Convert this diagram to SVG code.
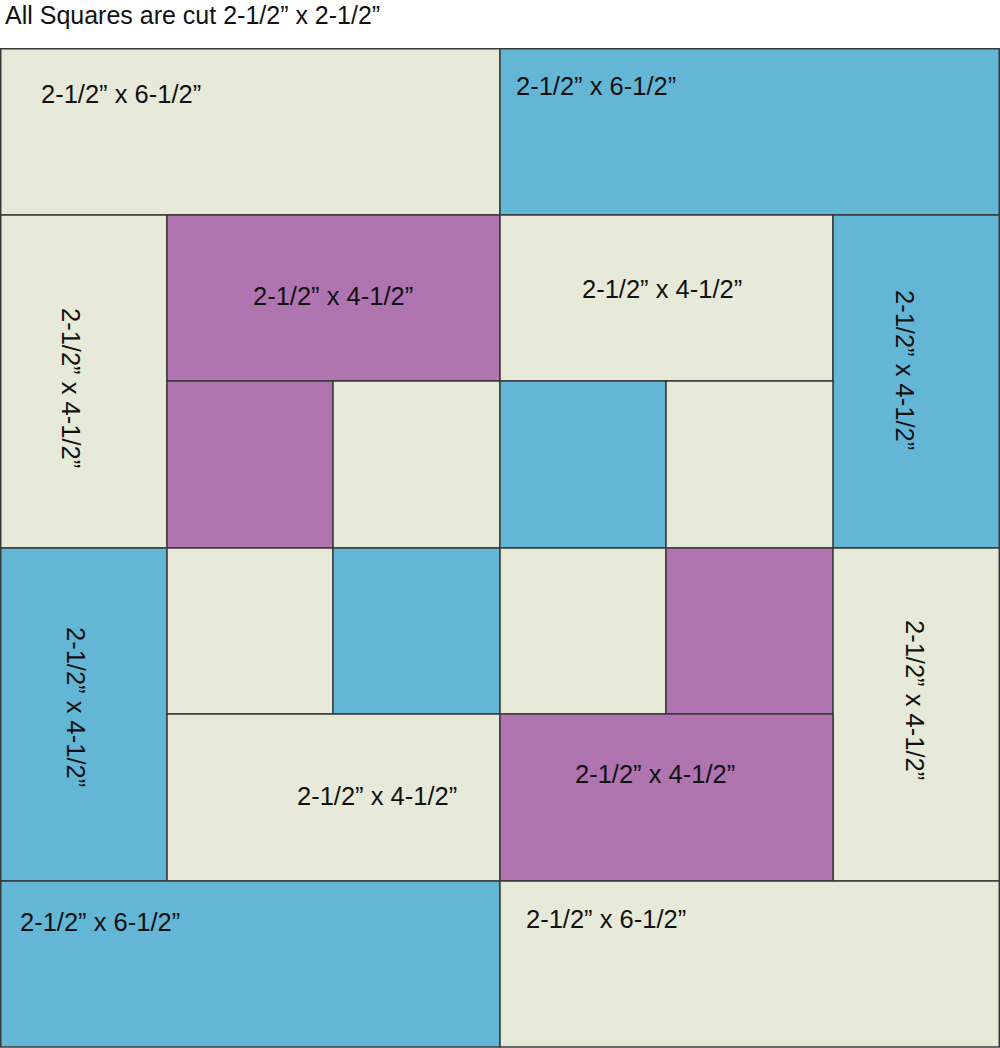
<svg xmlns="http://www.w3.org/2000/svg" width="1000" height="1048" viewBox="0 0 1000 1048">
<style>
.c,.b,.p{stroke:#3a3a3a;stroke-width:1.5}
.c{fill:#e7ead8}
.b{fill:#64b6d6}
.p{fill:#b074b0}
text{font-family:"Liberation Sans",Arial,sans-serif;font-size:25.5px;fill:#111}
.t{font-size:25px}
</style>
<rect width="1000" height="1048" fill="#fff"/>
<text class="t" x="5" y="24">All Squares are cut 2-1/2” x 2-1/2”</text>
<g id="r1a"><rect class="c" x="0.75" y="48.75" width="499.25" height="166.25"/><text x="41" y="103">2-1/2” x 6-1/2”</text></g>
<g id="r1b"><rect class="b" x="500" y="48.75" width="499.25" height="166.25"/><text x="516" y="95">2-1/2” x 6-1/2”</text></g>
<g id="v1"><rect class="c" x="0.75" y="215" width="166.25" height="333"/><text transform="translate(62,308) rotate(90)">2-1/2” x 4-1/2”</text></g>
<g id="h2a"><rect class="p" x="167" y="215" width="333" height="166"/><text x="253" y="305">2-1/2” x 4-1/2”</text></g>
<g id="h2b"><rect class="c" x="500" y="215" width="333" height="166"/><text x="582" y="298">2-1/2” x 4-1/2”</text></g>
<g id="v2"><rect class="b" x="833" y="215" width="166.25" height="333"/><text transform="translate(896,290) rotate(90)">2-1/2” x 4-1/2”</text></g>
<g id="s1"><rect class="p" x="167" y="381" width="166" height="167"/></g>
<g id="s2"><rect class="c" x="333" y="381" width="167" height="167"/></g>
<g id="s3"><rect class="b" x="500" y="381" width="166" height="167"/></g>
<g id="s4"><rect class="c" x="666" y="381" width="167" height="167"/></g>
<g id="v3"><rect class="b" x="0.75" y="548" width="166.25" height="333"/><text transform="translate(67,627) rotate(90)">2-1/2” x 4-1/2”</text></g>
<g id="s5"><rect class="c" x="167" y="548" width="166" height="166"/></g>
<g id="s6"><rect class="b" x="333" y="548" width="167" height="166"/></g>
<g id="s7"><rect class="c" x="500" y="548" width="166" height="166"/></g>
<g id="s8"><rect class="p" x="666" y="548" width="167" height="166"/></g>
<g id="v4"><rect class="c" x="833" y="548" width="166.25" height="333"/><text transform="translate(906,620) rotate(90)">2-1/2” x 4-1/2”</text></g>
<g id="h5a"><rect class="c" x="167" y="714" width="333" height="167"/><text x="297" y="805">2-1/2” x 4-1/2”</text></g>
<g id="h5b"><rect class="p" x="500" y="714" width="333" height="167"/><text x="575" y="783">2-1/2” x 4-1/2”</text></g>
<g id="r6a"><rect class="b" x="0.75" y="881" width="499.25" height="166"/><text x="20" y="931">2-1/2” x 6-1/2”</text></g>
<g id="r6b"><rect class="c" x="500" y="881" width="499.25" height="166"/><text x="526" y="928">2-1/2” x 6-1/2”</text></g>
</svg>
